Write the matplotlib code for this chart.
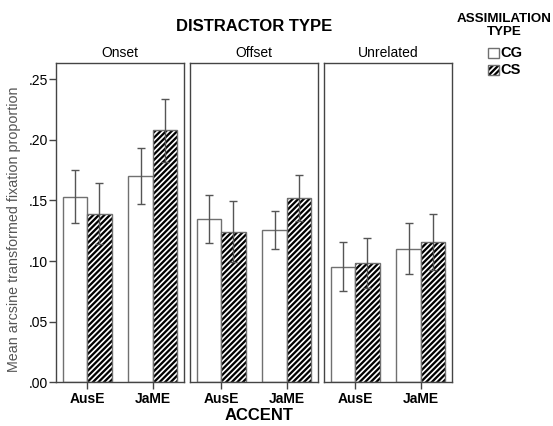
import numpy as np
import matplotlib
matplotlib.use('Agg')
import matplotlib.pyplot as plt
from matplotlib.patches import Rectangle

plt.rcParams['font.family'] = ['Liberation Sans', 'DejaVu Sans']
plt.rcParams['hatch.linewidth'] = 1.2

accents = ['AusE', 'JaME']
distractors = ['Onset', 'Offset', 'Unrelated']
groups = ['CG', 'CS']

# mean values per distractor type, one entry per accent
cg_mean = [[0.153, 0.170], [0.1345, 0.1257], [0.0954, 0.110]]
cs_mean = [[0.139, 0.208], [0.1243, 0.152], [0.0984, 0.1158]]
# half width of the error bars
cg_err = [[0.022, 0.023], [0.0197, 0.0155], [0.020, 0.021]]
cs_err = [[0.025, 0.026], [0.025, 0.019], [0.021, 0.023]]

yticks = [0.00, 0.05, 0.10, 0.15, 0.20, 0.25]
ytick_labels = ['.00', '.05', '.10', '.15', '.20', '.25']

W, H = 553, 426
fig = plt.figure(figsize=(W / 100, H / 100), dpi=100)

panel_left = [56.3, 190.3, 324.3]
panel_w = 127.4
bottom_px, top_px = 382.3, 63.0

frame_col = '#444444'
bar_edge = '#707070'
err_col = '#555555'
hatch = '//////'
bw = 0.373
x = np.arange(len(accents))

axes = []
for i, name in enumerate(distractors):
    ax = fig.add_axes([panel_left[i] / W, (H - bottom_px) / H, panel_w / W,
                       (bottom_px - top_px) / H])
    axes.append(ax)
    # CG bars: white
    ax.bar(x - bw / 2, cg_mean[i], bw, facecolor='white', edgecolor=bar_edge,
           linewidth=1.0, zorder=2)
    # CS bars: black with white diagonal stripes, outline drawn separately
    ax.bar(x + bw / 2, cs_mean[i], bw, facecolor='black', edgecolor='white',
           hatch=hatch, linewidth=0, zorder=2)
    ax.bar(x + bw / 2, cs_mean[i], bw, fill=False, edgecolor=bar_edge,
           linewidth=1.0, zorder=3)
    ax.errorbar(x - bw / 2, cg_mean[i], yerr=cg_err[i], fmt='none',
                ecolor=err_col, elinewidth=1.0, capsize=3.2, capthick=1.0, zorder=4)
    ax.errorbar(x + bw / 2, cs_mean[i], yerr=cs_err[i], fmt='none',
                ecolor=err_col, elinewidth=1.0, capsize=3.2, capthick=1.0, zorder=4)

    ax.set_xlim(-0.47, 1.47)
    ax.set_ylim(0, 0.2634)
    ax.set_xticks(x)
    ax.set_xticklabels(accents, fontsize=10, fontweight='bold')
    ax.tick_params(axis='x', length=5, width=1, color=frame_col, pad=2)
    for s in ax.spines.values():
        s.set_color(frame_col)
        s.set_linewidth(1.0)
    if i == 0:
        ax.set_yticks(yticks)
        ax.set_yticklabels(ytick_labels, fontsize=10)
        ax.tick_params(axis='y', length=5, width=1, color=frame_col, pad=1)
        ax.set_ylabel('Mean arcsine transformed fixation proportion', fontsize=10.3,
                      color='#555555')
        ax.yaxis.set_label_coords(-(56.3 - 21.5) / panel_w, 0.48)
    else:
        ax.set_yticks([])
    ax.set_title(name, fontsize=10, pad=4)

fig.text(254 / W, 1 - 26.5 / H, 'DISTRACTOR TYPE', ha='center', va='center',
         fontsize=12, fontweight='bold')
fig.text(259 / W, 1 - 416 / H, 'ACCENT', ha='center', va='center',
         fontsize=12, fontweight='bold')

# legend
fig.text(504.5 / W, 1 - 25.5 / H, 'ASSIMILATION\nTYPE', ha='center', va='center',
         fontsize=9.6, fontweight='bold', linespacing=1.1)
leg_y = [53, 69.5]
for g, yy in zip(groups, leg_y):
    if g == 'CG':
        fig.add_artist(Rectangle((488 / W, 1 - (yy + 5) / H), 11 / W, 10 / H,
                                 transform=fig.transFigure, facecolor='white',
                                 edgecolor=bar_edge, linewidth=1.0))
    else:
        fig.add_artist(Rectangle((488 / W, 1 - (yy + 5) / H), 11 / W, 10 / H,
                                 transform=fig.transFigure, facecolor='black',
                                 edgecolor='white', hatch=hatch, linewidth=0))
        fig.add_artist(Rectangle((488 / W, 1 - (yy + 5) / H), 11 / W, 10 / H,
                                 transform=fig.transFigure, fill=False,
                                 edgecolor=bar_edge, linewidth=1.0))
    fig.text(500.5 / W, 1 - yy / H, g, ha='left', va='center', fontsize=10.5,
             fontweight='bold')

fig.savefig('out.png', dpi=100)
